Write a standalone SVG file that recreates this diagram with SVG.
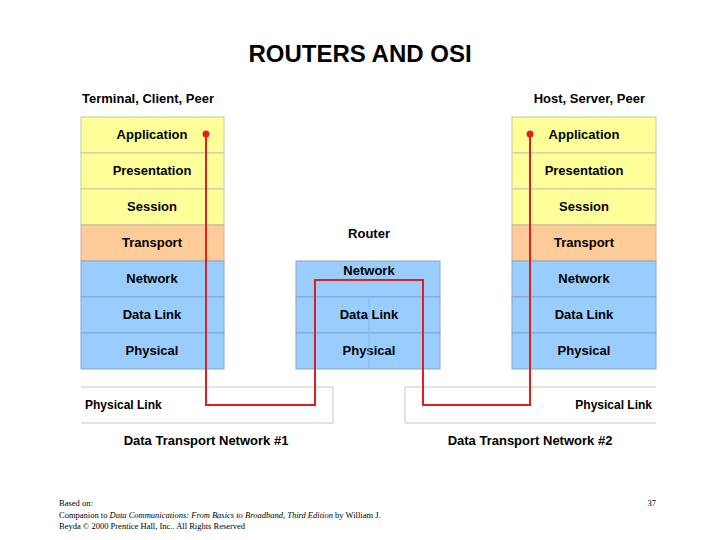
<svg xmlns="http://www.w3.org/2000/svg" width="720" height="540" viewBox="0 0 720 540">
<style>
.y{fill:#FFFF99;stroke:#C8C8A0;stroke-width:1}
.o{fill:#FFCC99;stroke:#C8B0A0;stroke-width:1}
.b{fill:#99CCFF;stroke:#8AA8C8;stroke-width:1}
.t{font-family:"Liberation Sans",Arial,sans-serif;font-weight:bold;font-size:13px;fill:#000;text-anchor:middle}
.h{font-family:"Liberation Sans",Arial,sans-serif;font-weight:bold;font-size:13px;fill:#000}
.f{font-family:"Liberation Serif","Times New Roman",serif;font-size:8.5px;fill:#000}
</style>
<rect width="720" height="540" fill="#fff"/>
<text x="360" y="62" font-family="Liberation Sans,Arial,sans-serif" font-weight="bold" font-size="24" text-anchor="middle">ROUTERS AND OSI</text>
<g id="left">
<text class="h" x="82" y="103">Terminal, Client, Peer</text>
<rect class="y" x="81" y="117" width="143" height="36"/><text class="t" x="152" y="139">Application</text>
<rect class="y" x="81" y="153" width="143" height="36"/><text class="t" x="152" y="175">Presentation</text>
<rect class="y" x="81" y="189" width="143" height="36"/><text class="t" x="152" y="211">Session</text>
<rect class="o" x="81" y="225" width="143" height="36"/><text class="t" x="152" y="247">Transport</text>
<rect class="b" x="81" y="261" width="143" height="36"/><text class="t" x="152" y="283">Network</text>
<rect class="b" x="81" y="297" width="143" height="36"/><text class="t" x="152" y="319">Data Link</text>
<rect class="b" x="81" y="333" width="143" height="36"/><text class="t" x="152" y="355">Physical</text>
</g>
<g id="router">
<text class="t" x="369" y="238">Router</text>
<rect class="b" x="296" y="261" width="144" height="36"/><text class="t" x="369" y="275">Network</text>
<rect class="b" x="296" y="297" width="144" height="36"/><text class="t" x="369" y="319">Data Link</text>
<rect class="b" x="296" y="333" width="144" height="36"/><text class="t" x="369" y="355">Physical</text>
<line x1="369" y1="297" x2="369" y2="369" stroke="#8AB8E8"/>
</g>
<g id="right">
<text class="h" x="645" y="103" text-anchor="end">Host, Server, Peer</text>
<rect class="y" x="512" y="117" width="144" height="36"/><text class="t" x="584" y="139">Application</text>
<rect class="y" x="512" y="153" width="144" height="36"/><text class="t" x="584" y="175">Presentation</text>
<rect class="y" x="512" y="189" width="144" height="36"/><text class="t" x="584" y="211">Session</text>
<rect class="o" x="512" y="225" width="144" height="36"/><text class="t" x="584" y="247">Transport</text>
<rect class="b" x="512" y="261" width="144" height="36"/><text class="t" x="584" y="283">Network</text>
<rect class="b" x="512" y="297" width="144" height="36"/><text class="t" x="584" y="319">Data Link</text>
<rect class="b" x="512" y="333" width="144" height="36"/><text class="t" x="584" y="355">Physical</text>
</g>
<g id="net1">
<path d="M81 387H333V423H81" fill="none" stroke="#C8C8C8"/>
<text x="85" y="409" font-family="Liberation Sans,Arial,sans-serif" font-weight="bold" font-size="12">Physical Link</text>
<text class="t" x="206" y="445">Data Transport Network  #1</text>
</g>
<g id="net2">
<path d="M656 387H405V423H656" fill="none" stroke="#C8C8C8"/>
<text x="652" y="409" font-family="Liberation Sans,Arial,sans-serif" font-weight="bold" font-size="12" text-anchor="end">Physical Link</text>
<text class="t" x="530" y="445">Data Transport Network  #2</text>
</g>
<g id="connectors">
<path d="M206 134V405H315V280H423V405H530V134" fill="none" stroke="#E02020" stroke-width="2"/>
<circle cx="206" cy="134" r="3.5" fill="#E02020"/>
<circle cx="530" cy="134" r="3.5" fill="#E02020"/>
</g>
<text class="f" x="59" y="506">Based on:</text>
<text class="f" x="59" y="518">Companion to <tspan font-style="italic">Data Communications:  From Basics to Broadband, Third Edition</tspan> by William J.</text>
<text class="f" x="59" y="529">Beyda © 2000 Prentice Hall, Inc.. All Rights Reserved</text>
<text class="f" x="656" y="506" text-anchor="end">37</text>
</svg>
